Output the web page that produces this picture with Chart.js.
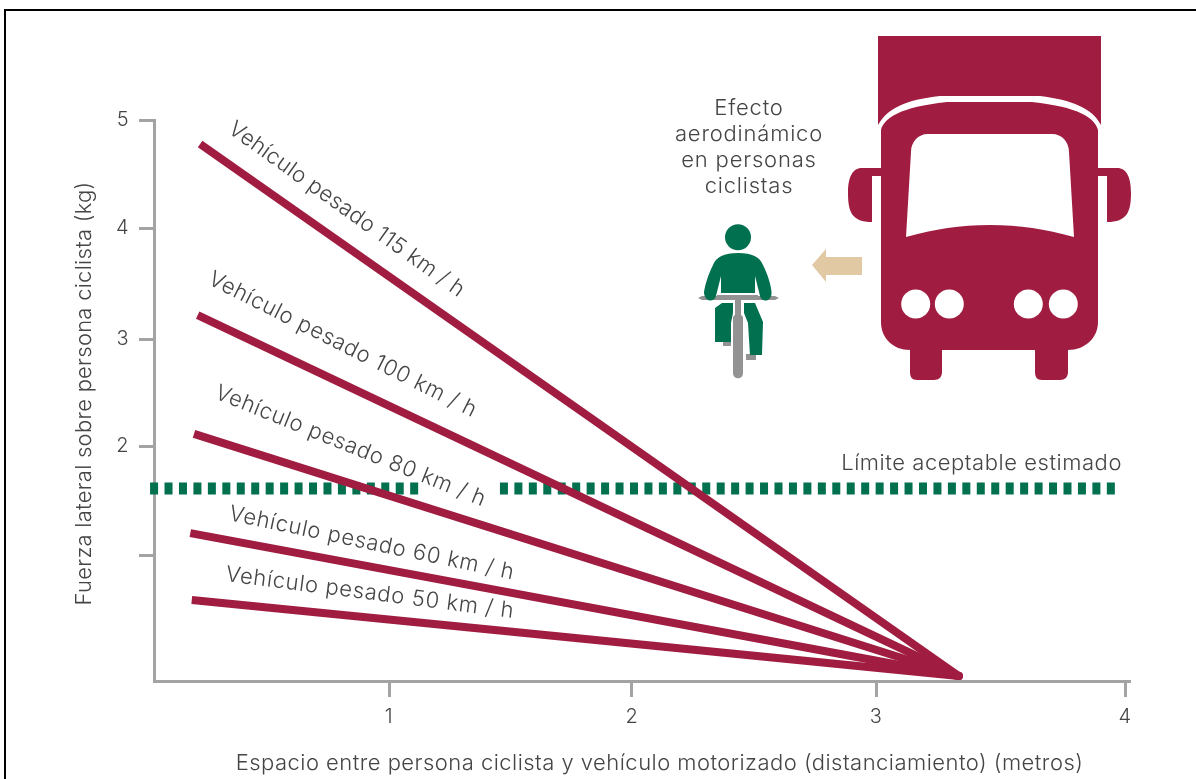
<!DOCTYPE html>
<html lang="es">
<head>
<meta charset="utf-8">
<title>Efecto aerodinámico en personas ciclistas</title>
<script src="https://cdn.jsdelivr.net/npm/chart.js@4/dist/chart.umd.min.js"></script>
<style>
    html, body { margin: 0; padding: 0; background: #fff; }
    canvas { display: block; }
</style>
</head>
<body>
<canvas id="chart" width="1196" height="779"></canvas>
<script>
const C_RED = '#a01c40';
const C_GREEN = '#00704f';
const C_TEXT = '#454545';
const C_AXIS = '#a3a3a3';
const C_BIKE = '#939393';
const C_ARROW = '#e0c9a3';
const FONT = 'Inter, "Open Sans", sans-serif';
const TEXT_SPACING = '0.47px';

// Where the lines start (left end), all meet at the same point on the right
const seriesNames = ['Vehículo pesado 115 km / h', 'Vehículo pesado 100 km / h', 'Vehículo pesado 80 km / h', 'Vehículo pesado 60 km / h', 'Vehículo pesado 50 km / h'];
const startX = [0.23, 0.22, 0.205, 0.19, 0.196];
const startY = [4.78, 3.21, 2.12, 1.21, 0.596];
const endX = 3.322;
const endY = -0.101;

// Estimated limit, with the break where the 80 km/h label sits
const limitValue = 1.62;
const limitX = [0.026, 1.126, 1.452, 3.96];
const limitLabel = 'Límite aceptable estimado';

// The original axes are hand-placed, so ticks are slightly uneven
const xTicks = [1, 1.99, 2.985, 4];
const yTicks = [1, 2.009, 2.99, 4.009, 5];
const yUnlabelled = [1];

const xTitle = 'Espacio entre persona ciclista y vehículo motorizado (distanciamiento) (metros)';
const yTitle = 'Fuerza lateral sobre persona ciclista (kg)';
const captionLines = ['Efecto', 'aerodinámico', 'en personas', 'ciclistas'];

// Label placement: baseline start in data units, rotation in degrees
const labelX = [0.34, 0.258, 0.286, 0.344, 0.331];
const labelY = [4.89, 3.50, 2.45, 1.33, 0.77];
const labelAngle = [35.6, 26.8, 22, 11.8, 7.3];
const labelSpacing = ['0.32px', '0.6px', '0.67px', '0.72px', '0.72px'];

const lineDatasets = seriesNames.map((name, i) => ({
    label: name,
    data: [{ x: startX[i], y: startY[i] }, { x: endX, y: endY }],
    borderColor: C_RED,
    backgroundColor: C_RED,
    borderWidth: 8,
    borderCapStyle: 'butt',
    pointRadius: [0, 4],
    pointBorderWidth: 0,
    pointHoverRadius: 0,
    order: 1
}));

const limitDataset = {
    label: limitLabel,
    data: [
        { x: limitX[0], y: limitValue },
        { x: limitX[1], y: limitValue },
        { x: null, y: null },
        { x: limitX[2], y: limitValue },
        { x: limitX[3], y: limitValue }
    ],
    borderColor: C_GREEN,
    borderWidth: 12,
    borderDash: [8, 6.45],
    borderCapStyle: 'butt',
    pointRadius: 0,
    spanGaps: false,
    clip: false,
    order: 2
};

// Truck, arrow and cyclist illustration
function drawIllustration(ctx) {
    ctx.save();
    ctx.fillStyle = C_RED;
    // cargo box
    ctx.fill(new Path2D('M878 36H1101V125C1092 108 1072 100 1040 96H940C905 100 888 108 878 125Z'));
    // cab
    ctx.fill(new Path2D('M881 130C884 118 900 107 947 102H1032C1079 107 1095 118 1098 130V322C1098 338 1085 350 1068 350V372C1068 377 1065 380 1060 380H1042C1037 380 1035 377 1035 372V350H942V372C942 377 939 380 934 380H917C912 380 910 377 910 372V350C893 350 881 338 881 322Z'));
    // mirrors
    ctx.fill(new Path2D('M881 168H862C852 168 848 178 848 193C848 212 852 222 872 222V176H881Z'));
    ctx.fill(new Path2D('M1098 168H1117C1127 168 1131 178 1131 193C1131 212 1127 222 1107 222V176H1098Z'));
    // windscreen and headlights
    ctx.fillStyle = '#ffffff';
    ctx.fill(new Path2D('M911 152C911 142 918 134 928 134H1052C1062 134 1069 142 1069 152L1074 237C1045 229 1020 225 990 225C960 225 935 229 906 237Z'));
    [915.7, 949.3, 1028.3, 1063.3].forEach(cx => {
        ctx.beginPath();
        ctx.arc(cx, 304, 14.5, 0, Math.PI * 2);
        ctx.fill();
    });
    // arrow
    ctx.fillStyle = C_ARROW;
    ctx.fill(new Path2D('M812 265L826 249V257H862V275H826V282Z'));
    // bike
    ctx.fillStyle = C_BIKE;
    ctx.fill(new Path2D('M698 298L702 296H775L779 298L775 300H702Z'));
    ctx.fill(new Path2D('M717 295H758V300H717Z'));
    ctx.fill(new Path2D('M735 296H741V316H735Z'));
    ctx.fill(new Path2D('M733 318C733 313 743 313 743 318V373C743 380 733 380 733 373Z'));
    ctx.fill(new Path2D('M723 340H731V346H723Z'));
    ctx.fill(new Path2D('M746 354H756V360H746Z'));
    // rider
    ctx.fillStyle = C_GREEN;
    ctx.beginPath();
    ctx.arc(738, 237.3, 13, 0, Math.PI * 2);
    ctx.fill();
    ctx.fill(new Path2D('M738 253C752 253 760 257 763 265C768 275 771 285 771.5 292C772 298 768 301 765 300.5C762 300 761 299 760 296L755 276V293H721V276L716 296C715 299 713 300.5 710 300.5C706 300 704 296 704 292C705 285 708 275 713 265C716 257 724 253 738 253Z'));
    ctx.fill(new Path2D('M715 308L722 303H733V313L731 323V342H715Z'));
    ctx.fill(new Path2D('M744 303H755L763 322L762 355H750L748 323L744 313Z'));
    ctx.restore();
}

const decorPlugin = {
    id: 'decor',
    beforeDraw(chart) {
        chart.ctx.letterSpacing = TEXT_SPACING;
    },
    beforeDatasetsDraw(chart) {
        const ctx = chart.ctx;
        // frame of the original figure
        ctx.save();
        ctx.strokeStyle = '#000000';
        ctx.lineWidth = 2;
        ctx.beginPath();
        ctx.moveTo(5, 779);
        ctx.lineTo(5, 10);
        ctx.lineTo(1196, 10);
        ctx.stroke();
        ctx.restore();
        drawIllustration(ctx);
    },
    afterDatasetsDraw(chart) {
        const ctx = chart.ctx;
        const { x, y } = chart.scales;
        ctx.save();
        ctx.fillStyle = C_TEXT;
        ctx.font = '300 22px ' + FONT;
        ctx.textBaseline = 'alphabetic';
        ctx.textAlign = 'left';
        seriesNames.forEach((name, i) => {
            ctx.save();
            ctx.letterSpacing = labelSpacing[i];
            ctx.translate(x.getPixelForValue(labelX[i]), y.getPixelForValue(labelY[i]));
            ctx.rotate(labelAngle[i] * Math.PI / 180);
            ctx.fillText(name, 0, 0);
            ctx.restore();
        });
        ctx.letterSpacing = '0.55px';
        ctx.textAlign = 'right';
        ctx.fillText(limitLabel, 1122, 470);
        ctx.letterSpacing = TEXT_SPACING;
        ctx.textAlign = 'center';
        ctx.fillText(xTitle, 659.5, 770);
        ctx.letterSpacing = '0.8px';
        captionLines.forEach((line, i) => ctx.fillText(line, 749, 115 + i * 26));
        ctx.letterSpacing = '0.25px';
        ctx.translate(91, 393.5);
        ctx.rotate(-Math.PI / 2);
        ctx.fillText(yTitle, 0, 0);
        ctx.restore();
    }
};

new Chart(document.getElementById('chart'), {
    type: 'line',
    data: { datasets: [limitDataset, ...lineDatasets] },
    plugins: [decorPlugin],
    options: {
        responsive: false,
        animation: false,
        layout: { padding: { top: 120, right: 66, left: 0, bottom: 0 } },
        plugins: { legend: { display: false }, tooltip: { enabled: false } },
        scales: {
            x: {
                type: 'linear',
                min: 0.042,
                max: 4.02,
                afterFit: s => { s.height = 98; },
                afterBuildTicks: s => { s.ticks = xTicks.map(v => ({ value: v })); },
                grid: { display: true, drawOnChartArea: false, drawTicks: true, tickLength: 16, tickColor: C_AXIS, tickWidth: 3 },
                border: { display: true, color: C_AXIS, width: 3 },
                ticks: { color: C_TEXT, font: { family: FONT, size: 20, weight: '300' }, padding: 8, maxRotation: 0, autoSkip: false, callback: v => Math.round(v) }
            },
            y: {
                type: 'linear',
                min: -0.147,
                max: 5,
                afterFit: s => { s.width = 154; },
                afterBuildTicks: s => { s.ticks = yTicks.map(v => ({ value: v })); },
                grid: { display: true, drawOnChartArea: false, drawTicks: true, tickLength: 15, tickColor: C_AXIS, tickWidth: 3 },
                border: { display: true, color: C_AXIS, width: 3 },
                ticks: { color: C_TEXT, font: { family: FONT, size: 20, weight: '300' }, padding: 10, autoSkip: false, callback: v => yUnlabelled.includes(v) ? '' : Math.round(v) }
            }
        }
    }
});
</script>
</body>
</html>
